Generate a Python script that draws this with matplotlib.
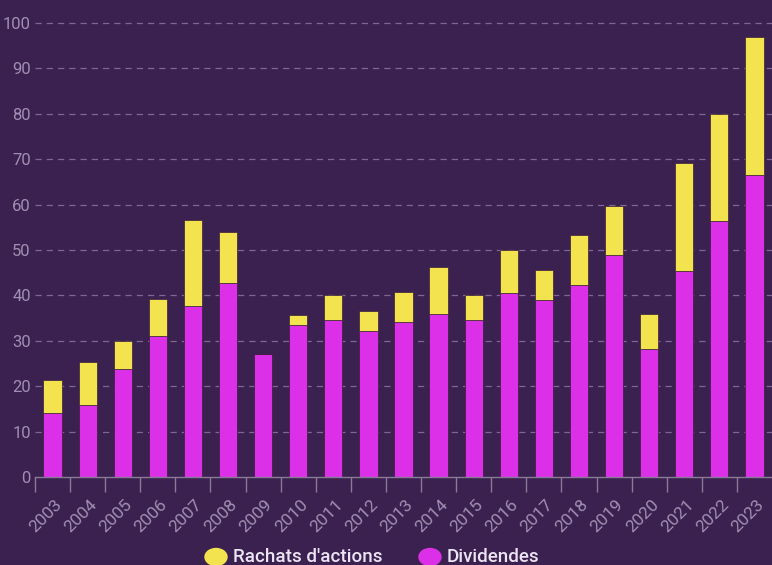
import matplotlib.pyplot as plt
from matplotlib.patches import Ellipse
from matplotlib.transforms import ScaledTranslation
import numpy as np

years = [str(y) for y in range(2003, 2024)]
dividendes = [14.0, 15.9, 23.8, 31.1, 37.6, 42.8, 27.0, 33.5, 34.5, 32.2, 34.2,
              35.9, 34.5, 40.5, 38.9, 42.3, 49.0, 28.2, 45.3, 56.3, 66.6]
rachats = [7.4, 9.4, 6.2, 8.0, 19.0, 11.1, 0.0, 2.1, 5.5, 4.4, 6.5,
           10.4, 5.5, 9.6, 6.8, 10.9, 10.8, 7.8, 23.8, 23.6, 30.3]
yticks = list(range(0, 101, 10))

BG = "#3b2150"
MAGENTA = "#dc30e8"
YELLOW = "#f3e34e"
TICK_C = "#a08fb2"
GRID_C = "#7c6893"

plt.rcParams["font.family"] = ["Roboto", "DejaVu Sans"]

fig = plt.figure(figsize=(7.72, 5.65), dpi=100, facecolor=BG)
ax = fig.add_axes([35 / 772, 1 - 477 / 565, 1 - 35 / 772, (477 - 23) / 565])
ax.set_facecolor(BG)

x = np.arange(len(years))
ax.bar(x, dividendes, width=0.52, color=MAGENTA, edgecolor="#3a1d3a",
       linewidth=0.5, zorder=3)
ax.bar(x, rachats, width=0.52, bottom=dividendes, color=YELLOW,
       edgecolor="#3a1d3a", linewidth=0.5, zorder=3)

ax.set_xlim(-0.5, 20.5)
ax.set_ylim(0, 100)

ax.set_yticks(yticks)
ax.set_yticklabels([str(v) for v in yticks])
ax.tick_params(axis="y", length=0, pad=3, labelsize=12, labelcolor=TICK_C)
for v in yticks[1:]:
    ax.axhline(v, color=GRID_C, linewidth=0.9, linestyle=(0, (5, 4)),
               zorder=1, clip_on=False)

ax.set_xticks(x)
ax.set_xticklabels(years, rotation=45, ha="right", va="center",
                   rotation_mode="anchor")
ax.tick_params(axis="x", length=0, pad=18, labelsize=12.5, labelcolor=TICK_C)
shift = ScaledTranslation(7 / 100, 0, fig.dpi_scale_trans)
for lab in ax.get_xticklabels():
    lab.set_transform(lab.get_transform() + shift)
ax.set_xticks(x - 0.5, minor=True)
ax.tick_params(axis="x", which="minor", length=11, width=1.0, color="#8a7a98")

for s in ["top", "right", "left"]:
    ax.spines[s].set_visible(False)
ax.spines["bottom"].set_color("#8a7a98")
ax.spines["bottom"].set_linewidth(1.0)
ax.spines["bottom"].set_zorder(4)

# legend drawn by hand at the bottom edge
ly = 1 - 557 / 565
fig.patches.append(Ellipse((216 / 772, ly), 22 / 772, 17 / 565,
                           transform=fig.transFigure, color=YELLOW))
fig.text(233 / 772, ly, "Rachats d'actions", color="#ece4f2", fontsize=13.5,
         fontweight="medium", ha="left", va="center")
fig.patches.append(Ellipse((430 / 772, ly), 22 / 772, 17 / 565,
                           transform=fig.transFigure, color=MAGENTA))
fig.text(447 / 772, ly, "Dividendes", color="#ece4f2", fontsize=13.5,
         fontweight="medium", ha="left", va="center")

fig.savefig("out.png", dpi=100, facecolor=BG)
